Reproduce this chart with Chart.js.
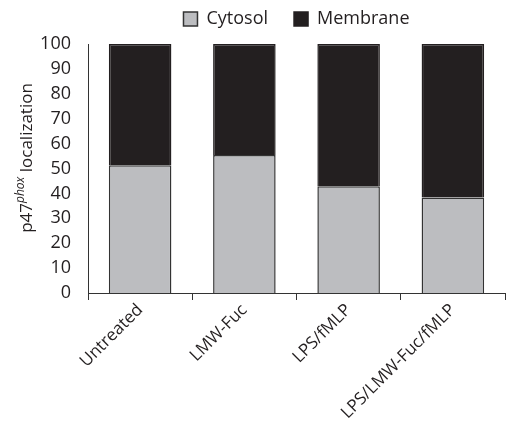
<!DOCTYPE html>
<html>
<head>
<meta charset="utf-8">
<script src="https://cdn.jsdelivr.net/npm/chart.js@4"></script>
<style>
  html, body { margin: 0; padding: 0; background: #fff; }
  #wrap { width: 507px; height: 440px; }
</style>
</head>
<body>
<div id="wrap"><canvas id="localizationChart" width="507" height="440"></canvas></div>
<script>
// Données
const categories = ['Untreated', 'LMW-Fuc', 'LPS/fMLP', 'LPS/LMW-Fuc/fMLP'];
const cytosol = [51.3, 55.4, 42.9, 38.4];
const membrane = [48.7, 44.6, 57.1, 61.6];
const yTicks = [0, 10, 20, 30, 40, 50, 60, 70, 80, 90, 100];

const FONT = '"Open Sans", "Noto Sans", sans-serif';
const INK = '#231f20';

// Titre de l'axe Y avec exposant en italique + placement de la légende
const yTitlePlugin = {
  id: 'yTitle',
  afterInit(chart) {
    // hauteur fixe de la légende pour placer la zone du graphique
    const legend = chart.legend;
    if (legend) {
      const fit = legend.fit;
      legend.fit = function () {
        fit.call(this);
        this.height = 60;
      };
    }
  },
  afterLayout(chart) {
    // légende centrée sur la zone de tracé
    if (chart.legend) {
      chart.legend.left = chart.chartArea.left;
    }
  },
  afterDraw(chart) {
    const ctx = chart.ctx;
    const parts = [
      {text: 'p47', font: `17px ${FONT}`, dy: 0},
      {text: 'phox', font: `italic 12px ${FONT}`, dy: -6},
      {text: ' localization', font: `17px ${FONT}`, dy: 0}
    ];
    ctx.save();
    let total = 0;
    parts.forEach(p => {
      ctx.font = p.font;
      p.w = ctx.measureText(p.text).width;
      total += p.w;
    });
    ctx.translate(21, 158);
    ctx.rotate(-Math.PI / 2);
    ctx.fillStyle = INK;
    ctx.textBaseline = 'middle';
    let x = -total / 2;
    parts.forEach(p => {
      ctx.font = p.font;
      ctx.fillText(p.text, x, p.dy + 6);
      x += p.w;
    });
    ctx.restore();
  }
};

new Chart(document.getElementById('localizationChart'), {
  type: 'bar',
  data: {
    labels: categories,
    datasets: [
      {
        label: 'Cytosol',
        data: cytosol,
        backgroundColor: '#bcbdc0',
        borderColor: '#333',
        borderWidth: 1.5,
        categoryPercentage: 1,
        barPercentage: 0.6
      },
      {
        label: 'Membrane',
        data: membrane,
        backgroundColor: INK,
        borderColor: INK,
        borderWidth: 1.5,
        categoryPercentage: 1,
        barPercentage: 0.6
      }
    ]
  },
  options: {
    responsive: false,
    animation: false,
    devicePixelRatio: 1,
    layout: {padding: {left: 0, right: 2, top: -16, bottom: 0}},
    plugins: {
      tooltip: {enabled: false},
      legend: {
        position: 'top',
        labels: {
          color: INK,
          font: {family: FONT, size: 18},
          boxWidth: 14,
          boxHeight: 14,
          padding: 26
        }
      }
    },
    scales: {
      x: {
        stacked: true,
        grid: {display: true, drawOnChartArea: false, offset: true, tickLength: 7, color: '#333'},
        border: {display: true, color: '#333', width: 1},
        ticks: {
          color: INK,
          font: {family: FONT, size: 17},
          maxRotation: 45,
          minRotation: 45,
          autoSkip: false,
          padding: 0
        },
        afterFit(scale) {
          scale.height = 147;
        }
      },
      y: {
        stacked: true,
        min: 0,
        max: 100,
        grid: {display: false},
        border: {display: true, color: '#333', width: 1},
        afterBuildTicks(scale) {
          scale.ticks = yTicks.map(v => ({value: v}));
        },
        ticks: {
          color: INK,
          font: {family: FONT, size: 18},
          autoSkip: false,
          padding: 9
        },
        afterFit(scale) {
          scale.width = 88;
        }
      }
    }
  },
  plugins: [yTitlePlugin]
});
</script>
</body>
</html>
